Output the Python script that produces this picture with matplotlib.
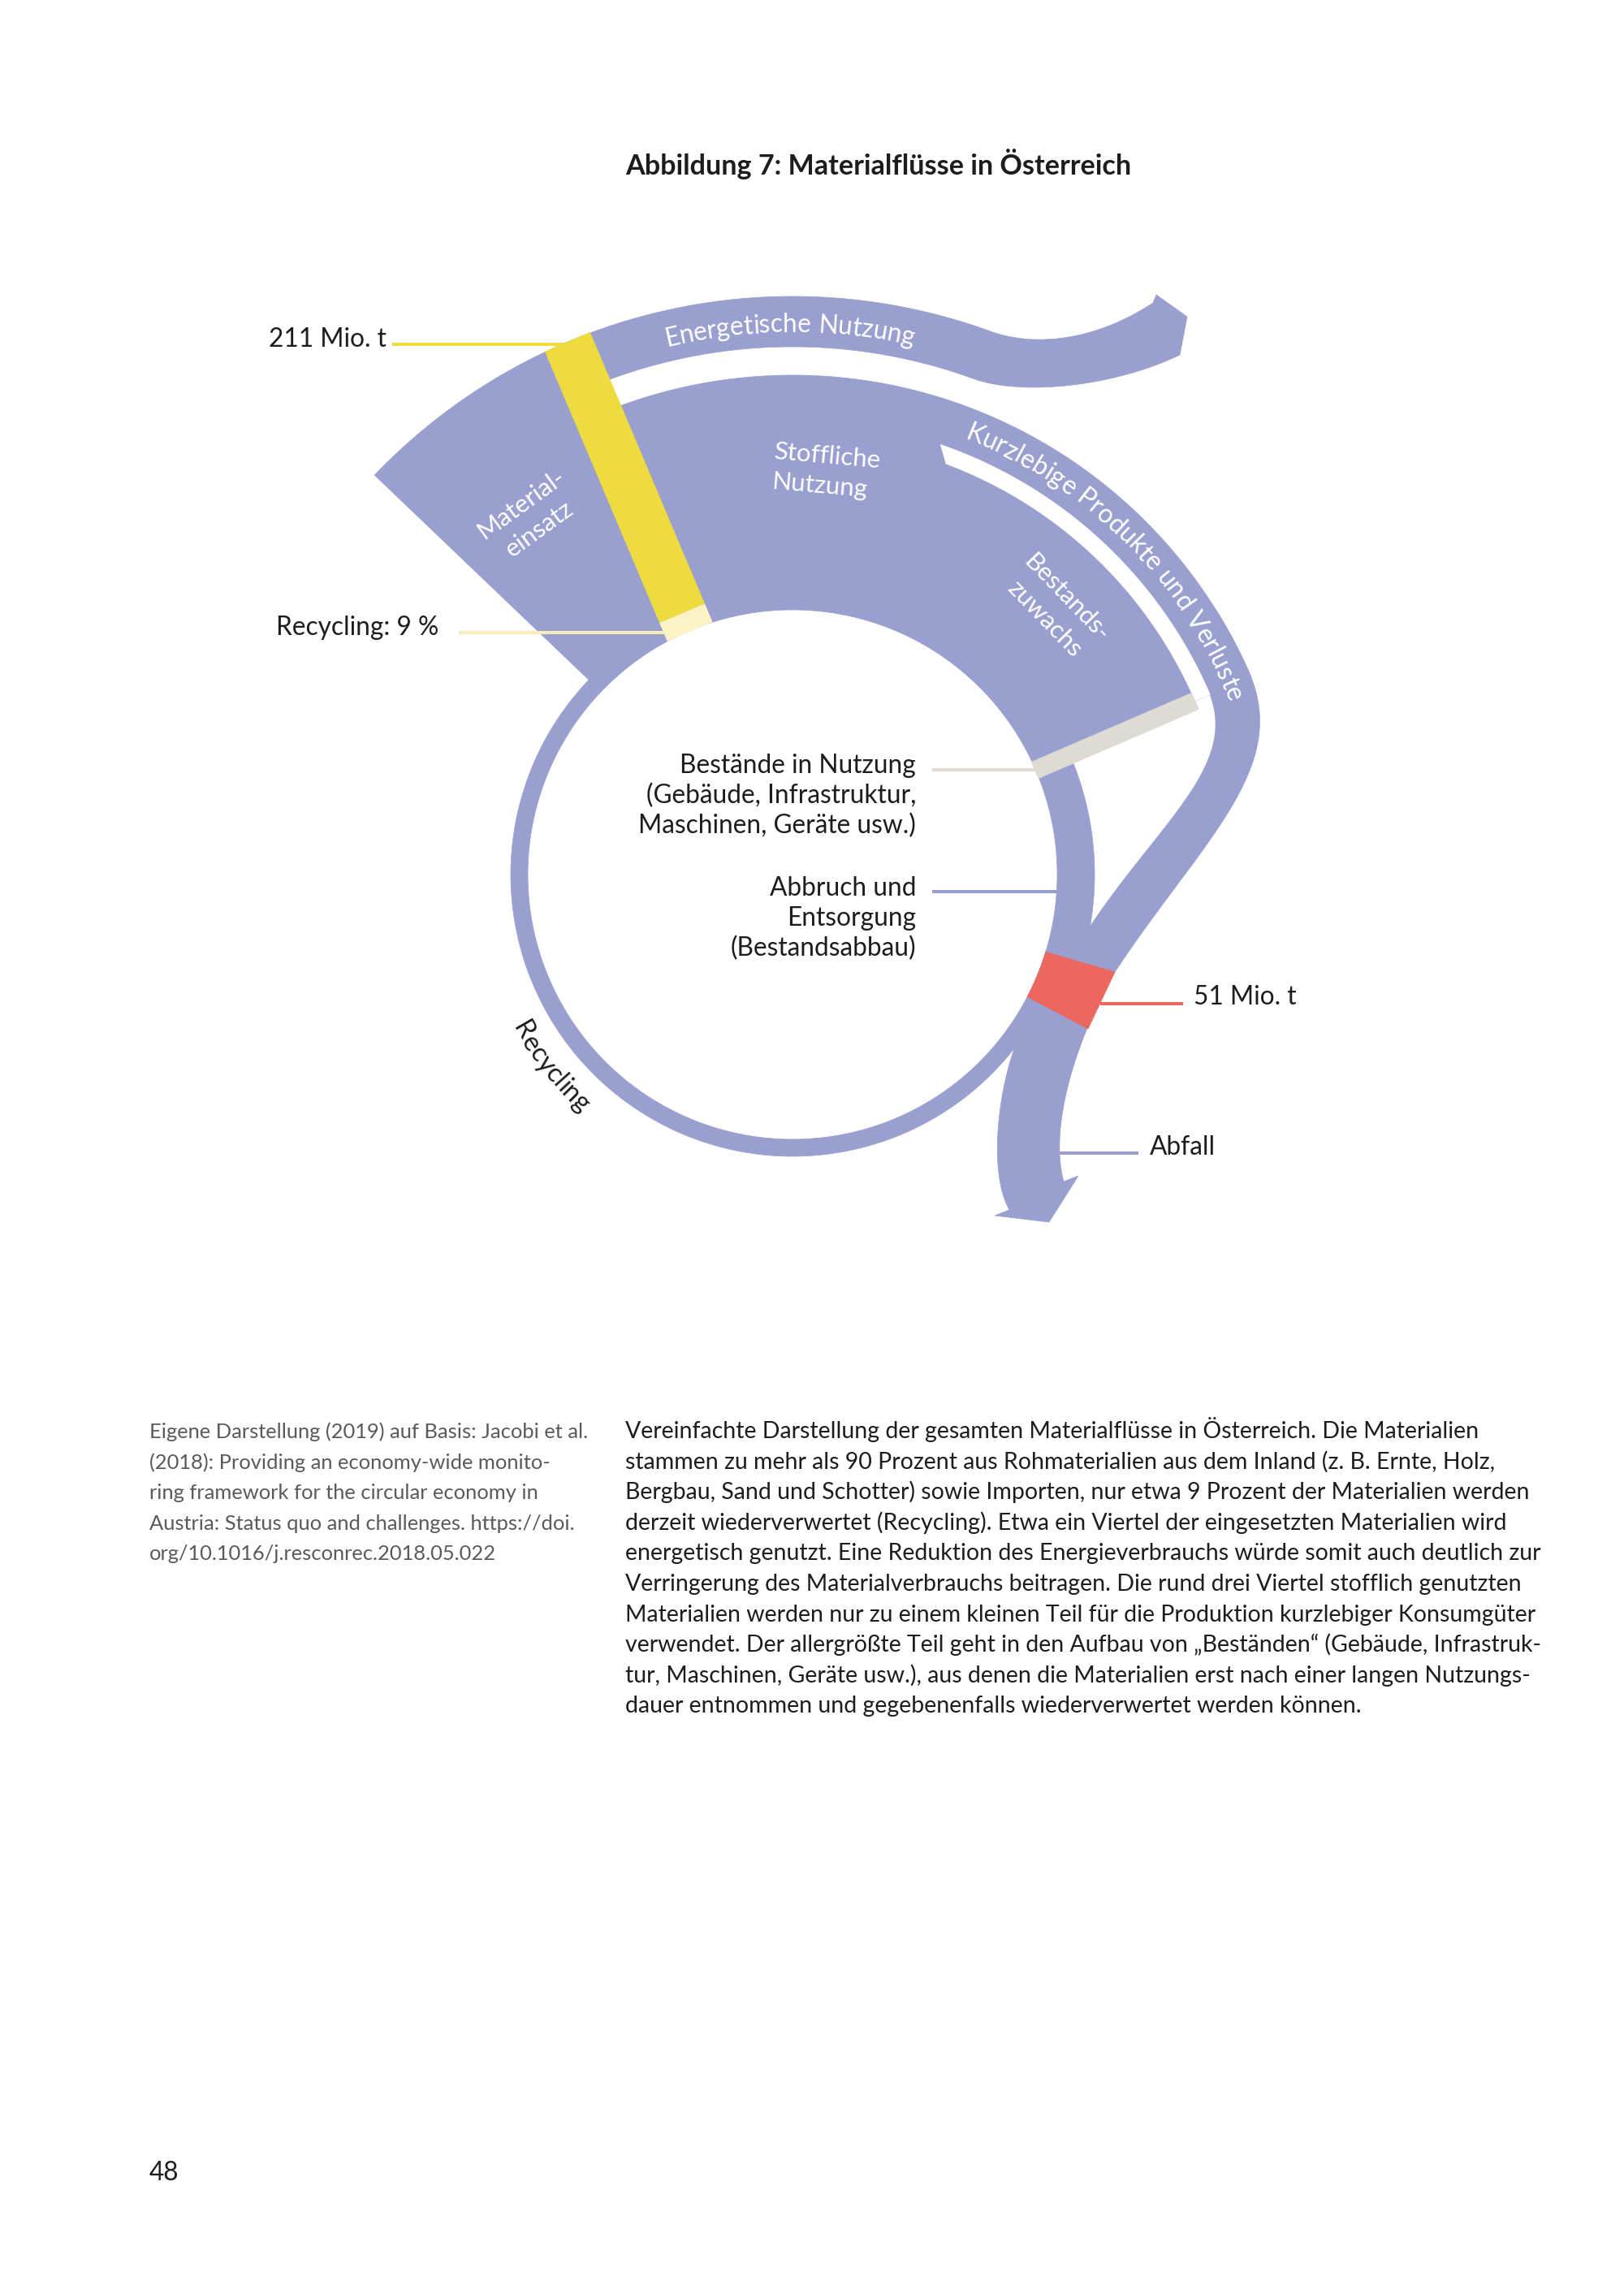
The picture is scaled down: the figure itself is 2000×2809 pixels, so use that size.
import numpy as np
import matplotlib
matplotlib.use("Agg")
import matplotlib.pyplot as plt
from matplotlib import font_manager, ft2font
from matplotlib.patches import Polygon

plt.rcParams["font.family"] = ["Lato", "DejaVu Sans"]

# ---- values and texts of the figure ----
title = "Abbildung 7: Materialflüsse in Österreich"
material_input_mt = 211      # Materialeinsatz, Mio. t
recycling_share_pct = 9      # Recycling share, %
waste_mt = 51                # Abfall, Mio. t

band_labels = ["Material-\neinsatz", "Stoffliche\nNutzung", "Bestands-\nzuwachs"]
arc_labels = ["Energetische Nutzung", "Kurzlebige Produkte und Verluste", "Recycling"]
stock_lines = ["Bestände in Nutzung", "(Gebäude, Infrastruktur,", "Maschinen, Geräte usw.)"]
outflow_lines = ["Abbruch und", "Entsorgung", "(Bestandsabbau)"]
waste_label = "Abfall"

source_lines = [
    "Eigene Darstellung (2019) auf Basis: Jacobi et al.",
    "(2018): Providing an economy-wide monito-",
    "ring framework for the circular economy in",
    "Austria: Status quo and challenges. https://doi.",
    "org/10.1016/j.resconrec.2018.05.022",
]
caption_lines = [
    "Vereinfachte Darstellung der gesamten Materialflüsse in Österreich. Die Materialien",
    "stammen zu mehr als 90 Prozent aus Rohmaterialien aus dem Inland (z. B. Ernte, Holz,",
    "Bergbau, Sand und Schotter) sowie Importen, nur etwa 9 Prozent der Materialien werden",
    "derzeit wiederverwertet (Recycling). Etwa ein Viertel der eingesetzten Materialien wird",
    "energetisch genutzt. Eine Reduktion des Energieverbrauchs würde somit auch deutlich zur",
    "Verringerung des Materialverbrauchs beitragen. Die rund drei Viertel stofflich genutzten",
    "Materialien werden nur zu einem kleinen Teil für die Produktion kurzlebiger Konsumgüter",
    "verwendet. Der allergrößte Teil geht in den Aufbau von „Beständen“ (Gebäude, Infrastruk-",
    "tur, Maschinen, Geräte usw.), aus denen die Materialien erst nach einer langen Nutzungs-",
    "dauer entnommen und gegebenenfalls wiederverwertet werden können.",
]
page_number = "48"

# ---- layout (pixels, page of 2000 x 2809) ----
CX, CY = 976, 1077
R_IN, R_RING, R_ABB = 326, 347, 372
R_STOCK, R_SHORT, R_STOFF = 540, 560, 615
R_ENE0, R_ENE1 = 650, 712
A_YEL, A_LEFT, A_GRAY = 112.9, 136.3, 23.3
A_RED0, A_RED1 = -17, -27.5
A_WAVE, A_BEND = 70, 24

BLUE = "#99A0D0"
YELLOW = "#EEDB3F"
PALE = "#FBF2C6"
GREY = "#DEDBD4"
RED = "#EC675E"
INK = "#1d1d1b"


def pol(r, a):
    a = np.radians(a)
    return np.array([CX + r * np.cos(a), CY - r * np.sin(a)])


def arc(r, a0, a1, n=160):
    t = np.radians(np.linspace(a0, a1, n))
    return np.column_stack([CX + r * np.cos(t), CY - r * np.sin(t)])


def bez(p0, p1, p2, p3, n=80):
    t = np.linspace(0, 1, n)[:, None]
    p0, p1, p2, p3 = (np.asarray(p, float) for p in (p0, p1, p2, p3))
    return (1 - t) ** 3 * p0 + 3 * (1 - t) ** 2 * t * p1 + 3 * (1 - t) * t ** 2 * p2 + t ** 3 * p3


def cw(a):
    a = np.radians(a)
    return np.array([np.sin(a), np.cos(a)])


def sector(r0, r1, a0, a1):
    return np.vstack([arc(r1, a0, a1), arc(r0, a1, a0)])


def strip(a, r0, r1, w):
    u = np.array([np.cos(np.radians(a)), -np.sin(np.radians(a))])
    v = np.array([np.sin(np.radians(a)), np.cos(np.radians(a))])
    c = np.array([CX, CY])
    return np.array([c + r0 * u - w / 2 * v, c + r1 * u - w / 2 * v,
                     c + r1 * u + w / 2 * v, c + r0 * u + w / 2 * v])


def adv(s, size, weight="normal"):
    f = ft2font.FT2Font(font_manager.findfont(
        font_manager.FontProperties(family="Lato", weight=weight)))
    f.set_size(size, 100)
    return np.array([f.load_char(ord(c)).linearHoriAdvance / 65536 for c in s])


def fit(s, px, weight="normal"):
    return 20 * px / adv(s, 20, weight).sum()


fig = plt.figure(figsize=(20, 28.09), dpi=100)
ax = fig.add_axes((0, 0, 1, 1))
ax.set_xlim(0, 2000)
ax.set_ylim(2809, 0)
ax.axis("off")


def fill(pts, color, z=2):
    ax.add_patch(Polygon(pts, closed=True, facecolor=color, edgecolor=color,
                         lw=0.5, zorder=z))


# recycling ring, input wedge, material use
fill(sector(R_IN, R_RING, A_LEFT, 360 + A_RED1), BLUE)
fill(sector(R_IN, R_ENE1, A_YEL, A_LEFT), BLUE)
fill(sector(R_IN, R_STOFF, A_GRAY, A_YEL), BLUE)

# energetic use: arc then wave with arrow
p0 = pol(R_ENE1, A_WAVE)
top = np.vstack([arc(R_ENE1, A_YEL, A_WAVE), bez(p0, p0 + 55 * cw(A_WAVE), (1345, 422), (1420, 373))])
q0 = pol(R_ENE0, A_WAVE)
bot = np.vstack([arc(R_ENE0, A_YEL, A_WAVE), bez(q0, q0 + 62 * cw(A_WAVE), (1370, 477), (1453, 437))])
fill(np.vstack([top, [(1424, 363), (1462, 390)], bot[::-1]]), BLUE)

# outflow of stocks (Abbruch)
fill(sector(R_IN, R_ABB, A_RED0, A_GRAY), BLUE)

# short-lived products bending down into the waste stream
o0 = pol(R_STOFF, A_BEND)
outer = np.vstack([arc(R_STOFF, 32, A_BEND), bez(o0, o0 + 130 * cw(A_BEND), (1480, 1035), (1373, 1197))])
i0 = pol(R_SHORT, A_BEND)
inner = np.vstack([arc(R_SHORT, 32, A_BEND), bez(i0, i0 + 100 * cw(A_BEND), (1430, 1010), (1343, 1140))])
fill(np.vstack([outer, [pol(R_IN, A_RED0)], inner[::-1]]), BLUE)

# waste stream with arrow
right = bez((1373, 1197), (1323, 1284), (1292, 1390), (1310, 1455))
left = bez((1253, 1282), (1232, 1330), (1215, 1440), (1243, 1490))
fill(np.vstack([[pol(R_IN, A_RED0)], right, [(1328, 1448), (1292, 1505), (1225, 1497)],
                left[::-1], arc(R_IN, A_RED1, A_RED0)]), BLUE)

# white split between stock growth and short-lived products
fill(np.vstack([arc(R_STOCK, 69.5, A_GRAY), arc(R_SHORT, A_GRAY, 71)]), "white", 3)

# markers
fill(strip(A_GRAY, R_IN - 1, R_STOCK, 22), GREY, 4)
fill(strip(A_YEL, R_RING + 2, R_ENE1, 60), YELLOW, 4)
fill(strip(A_YEL, R_IN - 1, R_RING + 2, 60), PALE, 4)
fill(np.vstack([arc(R_IN, A_RED0, A_RED1), [(1340, 1267), (1373, 1197)]]), RED, 4)

# leader lines
lw = 2.9
ax.plot([483, 700], [424, 424], color=YELLOW, lw=lw, solid_capstyle="butt", zorder=1)
ax.plot([565, 818], [779, 779], color="#F8EDBA", lw=lw, solid_capstyle="butt", zorder=5)
ax.plot([1148, 1280], [948, 948], color=GREY, lw=lw, solid_capstyle="butt", zorder=5)
ax.plot([1148, 1304], [1098, 1098], color=BLUE, lw=lw, solid_capstyle="butt", zorder=5)
ax.plot([1355, 1457], [1236, 1236], color=RED, lw=lw, solid_capstyle="butt", zorder=5)
ax.plot([1300, 1402], [1420, 1420], color=BLUE, lw=lw, solid_capstyle="butt", zorder=5)

# texts
fs_lab = fit(stock_lines[0], 290)
fs_band = fit("Stoffliche", 132)
ax.text(1082, 215, title, ha="center", va="baseline", fontsize=fit(title, 623, "bold"),
        fontweight="bold", color=INK)
ax.text(331, 427, f"{material_input_mt} Mio. t", ha="left", va="baseline", fontsize=fs_lab, color=INK)
ax.text(540, 782, f"Recycling: {recycling_share_pct} %", ha="right", va="baseline", fontsize=fs_lab, color=INK)
ax.text(1470, 1237, f"{waste_mt} Mio. t", ha="left", va="baseline", fontsize=fs_lab, color=INK)
ax.text(1416, 1422, waste_label, ha="left", va="baseline", fontsize=fs_lab, color=INK)
for i, s in enumerate(stock_lines):
    ax.text(1128, 952 + 37 * i, s, ha="right", va="baseline", fontsize=fs_lab, color=INK)
for i, s in enumerate(outflow_lines):
    ax.text(1128, 1103 + 37 * i, s, ha="right", va="baseline", fontsize=fs_lab, color=INK)

ax.text(653, 636, band_labels[0], rotation=36, ha="center", va="center", multialignment="center",
        fontsize=fs_band, color="white", linespacing=1.4, zorder=6)
ax.text(1018, 580, band_labels[1], rotation=-5, ha="center", va="center", multialignment="left",
        fontsize=fs_band, color="white", linespacing=1.4, zorder=6)
ax.text(1300, 749, band_labels[2], rotation=-46, ha="center", va="center", multialignment="center",
        fontsize=fs_band, color="white", linespacing=1.4, zorder=6)


def arc_text(s, r, a_mid, length, color, clockwise=True):
    size = fit(s, length)
    w = adv(s, size)
    mid = np.cumsum(w) - w / 2 - w.sum() / 2
    for ch, d in zip(s, mid):
        if ch == " ":
            continue
        if clockwise:
            a = a_mid - np.degrees(d / r)
            rot = a - 90
        else:
            a = a_mid + np.degrees(d / r)
            rot = a + 90
        x, y = pol(r, a)
        ax.text(x, y, ch, rotation=rot, rotation_mode="anchor", ha="center", va="baseline",
                fontsize=size, color=color, zorder=6)


arc_text(arc_labels[0], 668, 90.3, 306, "white")
arc_text(arc_labels[1], 577, 45, 474, "white")
arc_text(arc_labels[2], 393, 218.5, 136, INK, clockwise=False)

# source and caption
fs_src = fit(source_lines[0], 539)
fs_cap = fit(caption_lines[4], 1125)
for i, s in enumerate(source_lines):
    ax.text(184, 1771 + 37.6 * i, s, ha="left", va="baseline", fontsize=fs_src, color="#5a5a5a")
for i, s in enumerate(caption_lines):
    ax.text(770, 1771 + 37.6 * i, s, ha="left", va="baseline", fontsize=fs_cap, color=INK)

ax.text(184, 2685, page_number, ha="left", va="baseline", fontsize=fs_lab, color=INK)

fig.savefig("out.png", dpi=100)
